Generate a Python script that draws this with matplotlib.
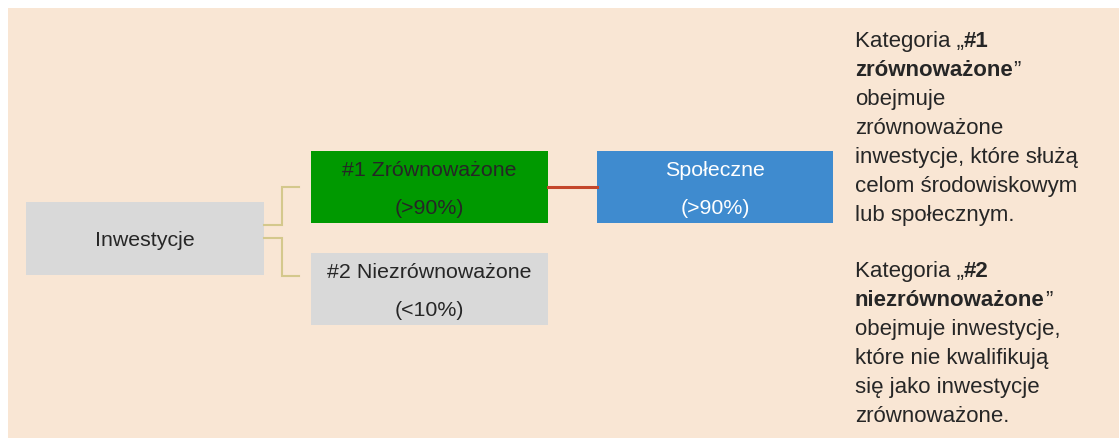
import matplotlib
matplotlib.use("Agg")
import matplotlib.pyplot as plt
from matplotlib.patches import Rectangle

plt.rcParams['font.family'] = ['Liberation Sans', 'DejaVu Sans']

# ---- data ----
root_label = "Inwestycje"
level1_labels = ["#1 Zrównoważone", "#2 Niezrównoważone"]
level1_shares = ["(>90%)", "(<10%)"]
level2_labels = ["Społeczne"]
level2_shares = ["(>90%)"]

# paragraph text: each line is list of (text, bold)
para1 = [
    [("Kategoria „", False), ("#1", True)],
    [("zrównoważone", True), ("”", False)],
    [("obejmuje", False)],
    [("zrównoważone", False)],
    [("inwestycje, które służą", False)],
    [("celom środowiskowym", False)],
    [("lub społecznym.", False)],
]
para2 = [
    [("Kategoria „", False), ("#2", True)],
    [("niezrównoważone", True), ("”", False)],
    [("obejmuje inwestycje,", False)],
    [("które nie kwalifikują", False)],
    [("się jako inwestycje", False)],
    [("zrównoważone.", False)],
]

# ---- style ----
W, H = 1119, 438
BG = "#f9e6d4"
GRAY = "#d9d9d9"
GREEN = "#009900"
BLUE = "#3f8bcf"
TAN = "#d4c88c"
RED = "#c4462a"
TXT = "#262626"
BOX_FS = 15.4
PARA_FS = 16

fig = plt.figure(figsize=(W / 100, H / 100), dpi=100)
ax = fig.add_axes([0, 0, 1, 1])
ax.set_xlim(0, W)
ax.set_ylim(H, 0)
ax.axis("off")

ax.add_patch(Rectangle((8, 8), W - 8, H - 8, facecolor=BG, edgecolor="none"))

def box(x0, y0, x1, y1, color):
    ax.add_patch(Rectangle((x0, y0), x1 - x0, y1 - y0, facecolor=color, edgecolor="none"))

# root
box(26, 202, 264, 275, GRAY)
ax.text(145, 241, root_label, ha="center", va="center", fontsize=BOX_FS, color=TXT)

# level1
l1_colors = [GREEN, GRAY]
l1_y = [(151, 223), (253, 325)]
for lab, sh, col, (y0, y1) in zip(level1_labels, level1_shares, l1_colors, l1_y):
    box(311, y0, 548, y1, col)
    cy = (y0 + y1) / 2
    ax.text(429.5, cy - 16, lab, ha="center", va="center", fontsize=BOX_FS, color=TXT)
    ax.text(429.5, cy + 22, sh, ha="center", va="center", fontsize=BOX_FS, color=TXT)

# level2
box(597, 151, 833, 223, BLUE)
ax.text(715, 171, level2_labels[0], ha="center", va="center", fontsize=BOX_FS, color="white")
ax.text(715, 209, level2_shares[0], ha="center", va="center", fontsize=BOX_FS, color="white")

# connectors
ax.plot([264, 282, 282, 299], [224.5, 224.5, 187, 187], color=TAN, lw=1.5, solid_joinstyle="miter")
ax.plot([264, 282, 282, 299], [238, 238, 276, 276], color=TAN, lw=1.5, solid_joinstyle="miter")
ax.plot([548, 597], [187, 187], color=RED, lw=2.2)

# paragraphs
fig.canvas.draw()
renderer = fig.canvas.get_renderer()
inv = ax.transData.inverted()

def draw_lines(lines, y_start, step=29):
    for i, segs in enumerate(lines):
        x = 855
        y = y_start + i * step
        for txt, bold in segs:
            t = ax.text(x, y, txt, ha="left", va="baseline", fontsize=PARA_FS,
                        fontweight="bold" if bold else "normal", color=TXT)
            bb = t.get_window_extent(renderer=renderer)
            x0d = inv.transform((bb.x0, bb.y0))[0]
            x1d = inv.transform((bb.x1, bb.y0))[0]
            x = x + (x1d - x0d)

draw_lines(para1, 47)
draw_lines(para2, 277)

fig.savefig("out.png", dpi=100, facecolor="white")
